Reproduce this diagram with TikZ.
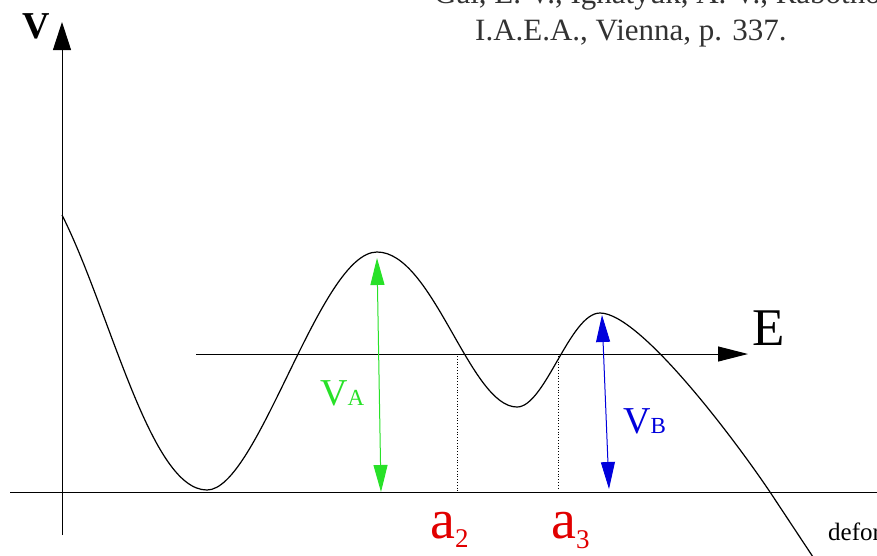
\documentclass[tikz,border=0pt]{standalone}
\usepackage{fontspec}
\setmainfont{Liberation Serif}
\usepackage{xcolor}
\usetikzlibrary{arrows.meta, positioning}
\definecolor{barriergreen}{RGB}{40,225,40}
\definecolor{barrierblue}{RGB}{0,0,220}
\definecolor{pointred}{RGB}{225,0,0}
\definecolor{citegray}{RGB}{50,50,50}

\begin{document}
\begin{tikzpicture}[x=1pt, y=-1pt,
    axisline/.style={line width=1pt},
    axisarrow/.style={line width=1pt, -{Triangle[length=28pt, width=18pt]}},
    energy/.style={line width=1pt, -{Triangle[length=30pt, width=15pt]}},
    barrier/.style={line width=1pt, {Triangle[length=27pt, width=14pt]}-{Triangle[length=27pt, width=14pt]}},
    potential/.style={line width=1.2pt},
    cutline/.style={dotted, line width=0.8pt},
    tag/.style={inner sep=0pt, anchor=base west}
]
\clip (0,0) rectangle (877,555);

\coordinate (hleft) at (10,492);
\coordinate (hright) at (877,492);
\coordinate (vbot) at (62,535);
\coordinate (vtop) at (62,22);
\coordinate (estart) at (196,354);
\coordinate (eend) at (748,354);
\coordinate (vatop) at (377,258);
\coordinate (vabot) at (381,492);
\coordinate (vbtop) at (602,315);
\coordinate (vbbot) at (609,489);
\coordinate (a2top) at (457,356);
\coordinate (a2bot) at (457,493);
\coordinate (a3top) at (558,356);
\coordinate (a3bot) at (558,490);
\coordinate (wall) at (62,215);
\coordinate (minone) at (207,490);
\coordinate (peaka) at (377,252);
\coordinate (mintwo) at (517,407);
\coordinate (peakb) at (600,313);
\coordinate (cross) at (770,492);
\coordinate (tail) at (815,560);

\node[tag, text=citegray] (cite1) at (434,3) {\fontsize{31}{31}\selectfont Gai, E. V., Ignatyuk, A. V., Rabotnov, N. S.,};
\node[tag, text=citegray] (cite2) at (475,40) {\fontsize{31}{31}\selectfont I.A.E.A., Vienna, p. 337.};
\node[tag] (vlabel) at (22,38) {\fontsize{38}{38}\selectfont\bfseries V};
\node[tag] (elabel) at (752,345) {\fontsize{53}{53}\selectfont E};
\node[tag, text=barriergreen] (va) at (320,405) {\fontsize{38}{38}\selectfont V\fontsize{23}{23}\selectfont A};
\node[tag, text=barrierblue] (vb) at (623,433) {\fontsize{38}{38}\selectfont V\fontsize{23}{23}\selectfont B};
\node[tag, text=pointred] (a2) at (430,538) {\fontsize{56}{56}\selectfont a\raisebox{-9pt}{\fontsize{27}{27}\selectfont 2}};
\node[tag, text=pointred] (a3) at (551,538) {\fontsize{56}{56}\selectfont a\raisebox{-10pt}{\fontsize{27}{27}\selectfont 3}};
\node[tag] (defo) at (828,540) {\fontsize{25}{25}\selectfont deformation};

\draw[axisline] (hleft) -- (hright);
\draw[axisarrow] (vbot) -- (vtop);
\draw[energy] (estart) -- (eend);
\draw[cutline] (a2top) -- (a2bot);
\draw[cutline] (a3top) -- (a3bot);
\draw[potential] (wall) .. controls (110,310) and (150,490) .. (minone)
    .. controls (258,490) and (320,252) .. (peaka)
    .. controls (433,252) and (470,407) .. (mintwo)
    .. controls (545,407) and (570,313) .. (peakb)
    .. controls (640,313) and (735,440) .. (cross) -- (tail);
\draw[barrier, barriergreen] (vabot) -- (vatop);
\draw[barrier, barrierblue] (vbbot) -- (vbtop);
\end{tikzpicture}
\end{document}
